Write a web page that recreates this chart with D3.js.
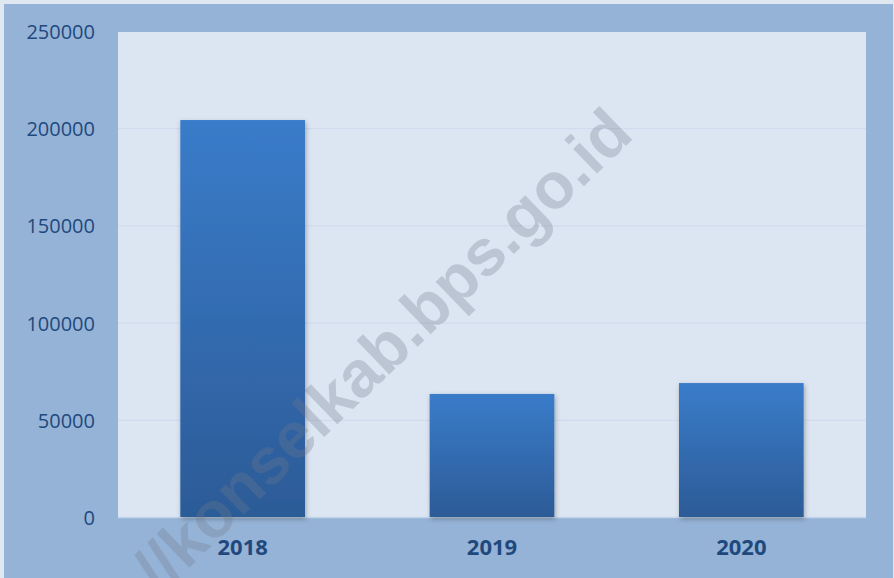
<!DOCTYPE html>
<html>
<head>
<meta charset="utf-8">
<script src="https://cdn.jsdelivr.net/npm/d3@7"></script>
<style>
  body { margin: 0; background: #ffffff; }
  svg { display: block; }
</style>
</head>
<body>
<svg id="main" width="894" height="578"></svg>
<script>
const years = ['2018', '2019', '2020'];
const values = [204200, 63300, 68900];
const yTicks = [0, 50000, 100000, 150000, 200000, 250000];

main();

function main() {
	let
		width = 894,
		height = 578,
		plot = { left: 118, right: 866, top: 31, bottom: 517 };

	let svg = d3.select('#main');

	let defs = svg.append('defs');
	let grad = defs.append('linearGradient')
		.attr('id', 'barGrad')
		.attr('x1', 0).attr('y1', 0).attr('x2', 0).attr('y2', 1);
	grad.append('stop').attr('offset', '0%').attr('stop-color', '#3a7cca');
	grad.append('stop').attr('offset', '100%').attr('stop-color', '#2c5b97');

	defs.append('filter')
		.attr('id', 'shadow')
		.attr('x', '-10%').attr('y', '-10%').attr('width', '130%').attr('height', '130%')
		.append('feDropShadow')
		.attr('dx', 1).attr('dy', 2)
		.attr('stdDeviation', 2.5)
		.attr('flood-color', '#000')
		.attr('flood-opacity', 0.3);

	// outer frame
	svg.append('rect')
		.attr('x', 0).attr('y', 0).attr('width', width).attr('height', height)
		.attr('fill', '#dfe7f1');
	svg.append('rect')
		.attr('x', 4).attr('y', 4).attr('width', width - 5).attr('height', height - 4)
		.attr('fill', '#95b3d7');

	// plot area
	svg.append('rect')
		.attr('x', plot.left).attr('y', plot.top + 1)
		.attr('width', plot.right - plot.left)
		.attr('height', plot.bottom - plot.top - 1)
		.attr('fill', '#dce6f2');

	let x = d3.scaleBand()
		.domain(years)
		.range([plot.left, plot.right])
		.paddingInner(0.5)
		.paddingOuter(0.25);

	let y = d3.scaleLinear()
		.domain([0, 250000])
		.range([plot.bottom, plot.top]);

	// grid lines
	svg.append('g')
		.selectAll('line')
		.data(yTicks.filter(d => d > 0 && d < 250000))
		.enter()
		.append('line')
		.attr('x1', plot.left).attr('x2', plot.right)
		.attr('y1', d => y(d) + 0.5).attr('y2', d => y(d) + 0.5)
		.attr('stroke', '#cfdcee')
		.attr('stroke-width', 1.2);

	svg.append('line')
		.attr('x1', plot.left).attr('x2', plot.right)
		.attr('y1', plot.bottom + 0.5).attr('y2', plot.bottom + 0.5)
		.attr('stroke', '#c4d5eb')
		.attr('stroke-width', 1.5);

	// bars
	svg.append('g')
		.selectAll('rect')
		.data(values)
		.enter()
		.append('rect')
		.attr('x', (d, i) => x(years[i]))
		.attr('y', d => y(d))
		.attr('width', x.bandwidth())
		.attr('height', d => y(0) - y(d))
		.attr('fill', 'url(#barGrad)')
		.attr('filter', 'url(#shadow)');

	// y axis labels
	let yAxis = svg.append('g')
		.attr('transform', `translate(${plot.left - 23},1)`)
		.call(d3.axisLeft(y).tickValues(yTicks).tickSize(0).tickPadding(0).tickFormat(d3.format('d')));
	yAxis.select('.domain').remove();
	yAxis.selectAll('text')
		.attr('fill', '#1f497d')
		.style('font-family', '"Open Sans", sans-serif')
		.style('font-size', '20px');

	// x axis labels
	let xAxis = svg.append('g')
		.attr('transform', `translate(0,${plot.bottom + 22})`)
		.call(d3.axisBottom(x).tickSize(0).tickPadding(0));
	xAxis.select('.domain').remove();
	xAxis.selectAll('text')
		.attr('fill', '#1f497d')
		.style('font-family', '"Open Sans", sans-serif')
		.style('font-weight', 'bold')
		.style('font-size', '22px');

	// watermark
	svg.append('text')
		.attr('transform', 'translate(382,350) rotate(-44)')
		.attr('text-anchor', 'middle')
		.attr('dominant-baseline', 'central')
		.style('font-family', '"Liberation Sans", Arial, sans-serif')
		.style('font-weight', 'bold')
		.style('font-size', '65px')
		.attr('fill', '#6f7b8c')
		.attr('fill-opacity', 0.3)
		.text('//konselkab.bps.go.id');
}
</script>
</body>
</html>
